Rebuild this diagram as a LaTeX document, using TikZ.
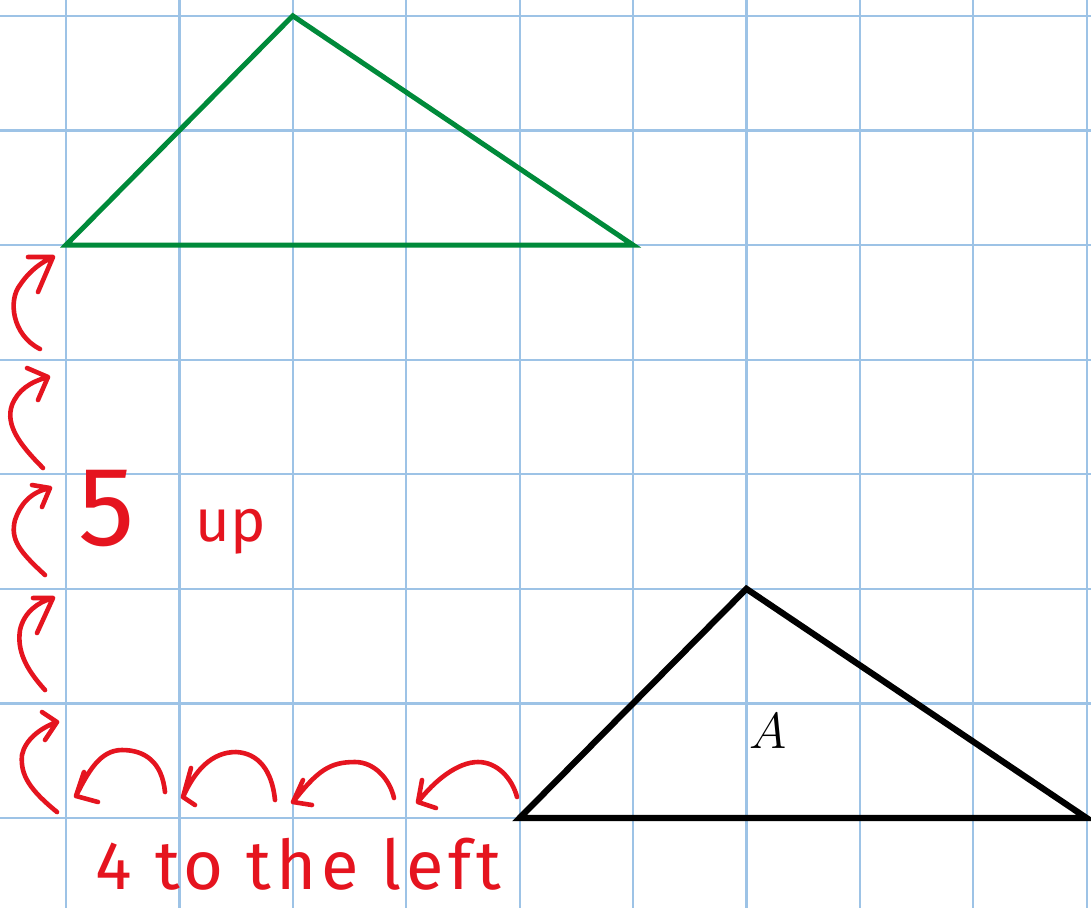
\documentclass[tikz,border=0pt]{standalone}
\usepackage{fontspec}
\setsansfont{Fira Sans}
\definecolor{gridblue}{HTML}{9DC3E6}
\definecolor{penred}{HTML}{E5141F}
\definecolor{trigreen}{HTML}{008A3A}
\tikzset{
  gridline/.style={gridblue, line width=0.022cm},
  tri/.style={line width=0.062cm, line join=miter},
  pen/.style={penred, line width=0.046cm, line cap=round, line join=round},
  hand/.style={penred, font=\sffamily, inner sep=0pt}
}
\begin{document}
\begin{tikzpicture}[x=0.01cm, y=-0.01cm]
\useasboundingbox (0,0) rectangle (1091,908);
\fill[white] (0,0) rectangle (1091,908);
% grid
\foreach \i in {0,...,9} {
  \draw[gridline] ({66+113.4*\i},0) -- ({66+113.4*\i},908);
}
\foreach \j in {0,...,7} {
  \draw[gridline] (0,{818-114.6*\j}) -- (1091,{818-114.6*\j});
}
% triangles
\coordinate (b1) at (519.6,818);
\coordinate (b2) at (746.4,588.8);
\coordinate (b3) at (1086.6,818);
\coordinate (g1) at (66,245.0);
\coordinate (g2) at (292.8,15.8);
\coordinate (g3) at (633.0,245.0);
\draw[tri, black] (b1) -- (b2) -- (b3) -- cycle;
\draw[tri, trigreen, line width=0.05cm] (g1) -- (g2) -- (g3) -- cycle;
\node[inner sep=0pt, font=\fontsize{15.4}{18}\selectfont] (lA) at (768,731.5) {$A$};
% vertical hops
\draw[pen] (40,349) .. controls (12,335) and (8,300) .. (20,285) .. controls (30,270) and (42,262) .. (53,257) -- (28,257) (53,257) -- (38,292);
\draw[pen] (43,468) .. controls (20,445) and (5,425) .. (12,405) .. controls (18,390) and (30,382) .. (48,377) -- (27,368) (48,377) -- (38,400);
\draw[pen] (45,575) .. controls (20,552) and (10,540) .. (15,520) .. controls (20,505) and (30,492) .. (50,488) -- (32,485) (50,488) -- (42,507);
\draw[pen] (45,690) .. controls (25,668) and (17,650) .. (20,630) .. controls (24,612) and (38,602) .. (53,598) -- (33,598) (53,598) -- (37,633);
\draw[pen] (57,812) .. controls (30,790) and (20,775) .. (22,755) .. controls (25,740) and (40,728) .. (57,722) -- (42,712) (57,722) -- (45,740);
% horizontal hops
\draw[pen] (517,797) .. controls (512,778) and (497,762) .. (478,762) .. controls (458,762) and (435,780) .. (418,802) -- (422,780) (418,802) -- (436,808);
\draw[pen] (394,798) .. controls (390,780) and (375,762) .. (355,762) .. controls (330,762) and (318,770) .. (293,802) -- (303,780) (293,802) -- (312,805);
\draw[pen] (275,800) .. controls (272,770) and (258,753) .. (236,752) .. controls (212,752) and (195,770) .. (183,797) -- (191,768) (183,797) -- (195,805);
\draw[pen] (165,792) .. controls (162,762) and (145,750) .. (122,750) .. controls (100,750) and (88,772) .. (76,796) -- (84,772) (76,796) -- (98,802);
% handwritten labels
\node[hand, anchor=center, font=\sffamily\fontsize{32}{36}\selectfont] (five) at (107,509) {5};
\node[hand, anchor=base west, font=\sffamily\fontsize{17}{20}\selectfont] (up) at (195,541) {up};
\node[hand, anchor=base west, font=\sffamily\fontsize{19.5}{23}\selectfont\addfontfeature{LetterSpace=7}] (left) at (95,889) {4 to the left};
\end{tikzpicture}
\end{document}
